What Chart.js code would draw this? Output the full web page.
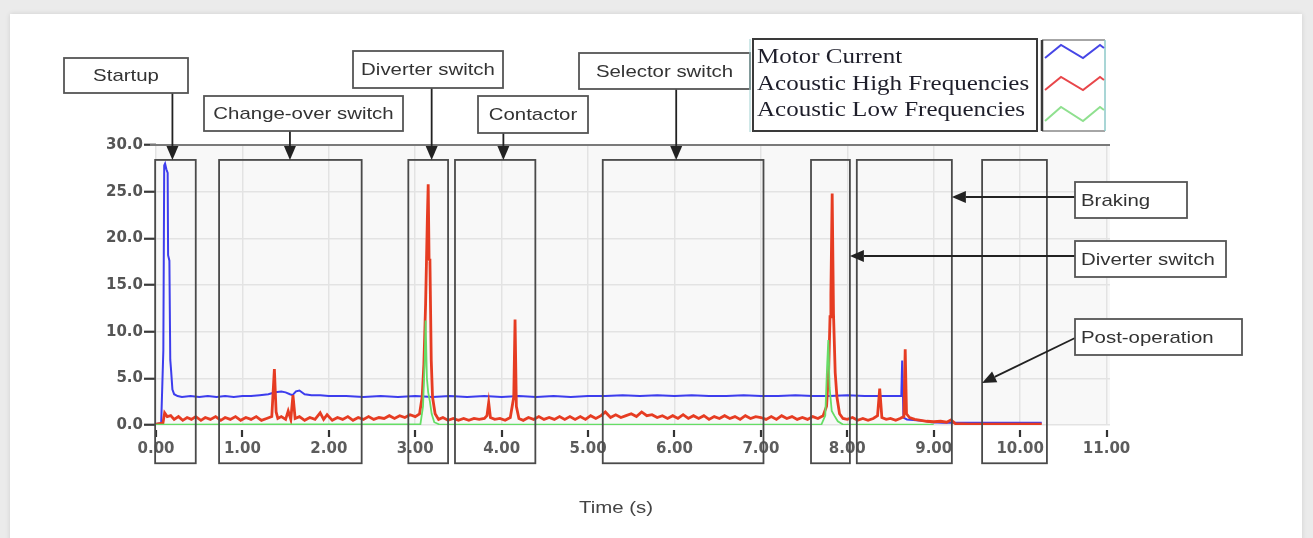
<!DOCTYPE html>
<html><head><meta charset="utf-8">
<script src="https://cdn.jsdelivr.net/npm/chart.js@4.4.0/dist/chart.umd.min.js"></script>
<style>
html,body{margin:0;padding:0;background:#ebebeb;width:1313px;height:538px;overflow:hidden}
#card{position:absolute;left:10px;top:14px;width:1292px;height:540px;background:#fff;box-shadow:0 0 5px rgba(0,0,0,0.12)}
#c{position:absolute;left:0;top:0}
</style></head>
<body><div id="card"></div><canvas id="c" width="1313" height="538"></canvas>
<script>
// ---------- data ----------
const xTickValues = [0,1,2,3,4,5,6,7,8,9,10,11];
const yTickValues = [0,5,10,15,20,25,30];

const seriesNames = ['Motor Current','Acoustic High Frequencies','Acoustic Low Frequencies'];

const motorTime = [
 0.00,0.06,0.085,0.095,0.105,0.12,0.135,0.14,0.155,0.165,
 0.175,0.19,0.21,0.25,0.30,0.40,0.50,0.60,0.70,0.80,
 0.90,1.00,1.10,1.20,1.30,1.38,1.45,1.50,1.55,1.58,
 1.62,1.66,1.72,1.80,1.90,2.00,2.20,2.40,2.60,2.80,
 3.00,3.20,3.40,3.60,3.80,4.00,4.20,4.40,4.60,4.80,
 5.00,5.20,5.40,5.60,5.80,6.00,6.20,6.40,6.60,6.80,
 7.00,7.20,7.40,7.60,7.80,8.00,8.20,8.40,8.55,8.625,
 8.635,8.65,8.69,8.80,8.92,8.97,9.10,9.40,9.70,10.00,
 10.25];
const motorCurrent = [
 0.1,0.2,8.0,27.8,28.0,27.4,27.0,18.2,17.6,7.0,
 5.8,3.8,3.3,3.1,3.0,3.1,3.0,3.1,3.0,3.1,
 3.0,3.1,3.1,3.2,3.3,3.5,3.6,3.5,3.3,3.2,
 3.6,3.7,3.3,3.2,3.2,3.1,3.1,3.0,3.1,3.0,
 3.1,3.0,3.1,3.0,3.1,3.0,3.1,3.0,3.1,3.0,
 3.1,3.1,3.2,3.1,3.2,3.1,3.2,3.1,3.1,3.2,
 3.1,3.1,3.2,3.1,3.1,3.2,3.1,3.1,3.1,3.1,
 6.9,0.8,0.6,0.5,0.4,0.3,0.25,0.25,0.25,0.25,
 0.25];

const highTime = [
 0.00,0.08,0.10,0.13,0.17,0.21,0.26,0.31,0.36,0.41,
 0.46,0.52,0.57,0.63,0.69,0.75,0.80,0.86,0.92,0.98,
 1.04,1.10,1.16,1.22,1.28,1.34,1.37,1.39,1.41,1.45,
 1.50,1.53,1.56,1.585,1.61,1.66,1.72,1.78,1.84,1.90,
 1.94,1.98,2.04,2.10,2.16,2.22,2.28,2.34,2.40,2.46,
 2.52,2.58,2.64,2.70,2.76,2.82,2.88,2.94,3.00,3.05,
 3.08,3.10,3.12,3.14,3.15,3.16,3.17,3.185,3.20,3.23,
 3.27,3.32,3.38,3.44,3.50,3.56,3.62,3.68,3.74,3.80,
 3.83,3.85,3.87,3.92,3.98,4.04,4.10,4.14,4.155,4.17,
 4.20,4.25,4.31,4.37,4.43,4.49,4.55,4.61,4.67,4.73,
 4.79,4.85,4.91,4.97,5.03,5.09,5.15,5.20,5.26,5.32,
 5.38,5.44,5.50,5.56,5.62,5.68,5.74,5.80,5.86,5.92,
 5.98,6.04,6.10,6.16,6.22,6.28,6.34,6.40,6.46,6.52,
 6.58,6.64,6.70,6.76,6.82,6.88,6.94,7.00,7.06,7.12,
 7.18,7.24,7.30,7.36,7.42,7.48,7.54,7.60,7.66,7.72,
 7.76,7.785,7.80,7.81,7.825,7.84,7.86,7.88,7.91,7.95,
 8.00,8.06,8.12,8.18,8.24,8.30,8.35,8.375,8.40,8.45,
 8.50,8.56,8.61,8.655,8.67,8.685,8.72,8.78,8.85,8.92,
 9.00,9.08,9.15,9.20,9.25,9.40,9.60,9.80,10.00,10.25];
const highFreq = [
 0.1,0.2,1.3,0.9,1.0,0.6,0.9,0.5,0.8,0.6,
 0.9,0.5,0.8,0.6,0.9,0.5,0.8,0.6,0.9,0.5,
 0.8,0.6,0.9,0.5,0.7,0.9,6.0,1.4,0.7,0.9,
 0.6,1.5,0.6,3.2,0.7,0.9,0.5,0.8,0.6,1.3,
 0.6,1.1,0.5,0.8,0.6,0.9,0.5,0.8,0.6,0.9,
 0.6,0.8,0.7,1.0,0.7,1.0,0.8,1.1,0.9,1.2,
 3.0,6.5,13.0,22.0,25.8,17.8,17.6,7.0,3.0,1.2,
 0.6,0.8,0.5,0.7,0.5,0.7,0.5,0.7,0.6,0.7,
 1.0,2.4,0.8,0.6,0.7,0.5,0.8,3.0,11.3,2.0,
 0.7,0.5,0.8,0.6,0.9,0.6,0.8,0.6,0.9,0.6,
 0.9,0.6,0.9,0.6,1.0,0.7,1.0,1.4,0.8,1.1,
 0.8,1.0,1.2,0.9,1.4,1.0,1.1,0.8,1.0,0.7,
 1.0,0.7,1.1,0.7,1.0,0.7,1.0,0.6,0.9,0.7,
 1.0,0.7,0.9,0.6,1.0,0.7,0.9,0.8,0.6,0.9,
 0.6,1.0,0.7,0.9,0.6,0.8,0.6,0.9,0.7,1.0,
 2.0,6.0,11.6,14.0,24.8,12.0,5.6,3.0,1.2,0.7,
 0.6,0.8,0.5,0.7,0.5,0.7,1.0,3.9,0.8,0.6,
 0.7,0.5,0.7,0.9,8.1,1.2,0.8,0.6,0.5,0.4,
 0.35,0.4,0.3,0.55,0.15,0.1,0.1,0.1,0.1,0.1];

const lowTime = [0.00,3.06,3.09,3.11,3.12,3.135,3.15,3.17,3.19,3.22,3.28,
 7.70,7.745,7.765,7.78,7.795,7.82,7.85,7.89,7.95,9.00];
const lowFreq = [0.05,0.1,2.0,7.0,11.2,5.0,3.5,2.5,1.2,0.3,0.05,
 0.05,1.0,6.0,9.1,4.0,1.5,1.0,0.4,0.05,0.05];

// ---------- annotations ----------
const regionTop = 28.4, regionBottom = -4.1;
const regionNames = ['Startup','Change-over','Diverter','Contactor','Selector','Diverter 2','Braking','Post-operation'];
const regionFrom = [-0.01,0.73,2.92,3.46,5.17,7.58,8.11,9.56];
const regionTo   = [0.46,2.38,3.38,4.39,7.03,8.03,9.21,10.31];

const topLabels = [
 {text:'Startup',            box:[64,58,188,93],  at:0.19},
 {text:'Change-over switch', box:[204,96,403,131],at:1.55},
 {text:'Diverter switch',    box:[353,51,503,88], at:3.19},
 {text:'Contactor',          box:[478,96,588,133],at:4.02},
 {text:'Selector switch',    box:[579,53,750,89], at:6.02}
];
const sideLabels = [
 {text:'Braking',         box:[1075,182,1187,218], ay:197, region:6, edge:'to',   val:null},
 {text:'Diverter switch', box:[1075,241,1226,277], ay:256, region:5, edge:'to',   val:null},
 {text:'Post-operation',  box:[1075,319,1242,355], ay:338, region:7, edge:'from', val:4.5}
];

const COLORS = ['#3d3ded','#e63c22','#66dd66'];
const LEGEND_COLORS = ['#4646e6','#e8464a','#8fe08f'];

function pts(xs, ys){ return xs.map((t,i)=>({x:t,y:ys[i]})); }

function sText(ctx,str,x,y,font,sx,align,base){
  ctx.save(); ctx.translate(x,y); ctx.scale(sx,1);
  ctx.font=font; ctx.textAlign=align||'center'; ctx.textBaseline=base||'middle';
  ctx.fillText(str,0,0); ctx.restore();
}
function seg(ctx,x1,y1,x2,y2){ ctx.beginPath(); ctx.moveTo(x1,y1); ctx.lineTo(x2,y2); ctx.stroke(); }
function arrow(ctx,x1,y1,x2,y2){
  const ang=Math.atan2(y2-y1,x2-x1), L=14, W=6;
  const bx=x2-L*Math.cos(ang), by=y2-L*Math.sin(ang);
  seg(ctx,x1,y1,bx,by);
  ctx.beginPath(); ctx.moveTo(x2,y2);
  ctx.lineTo(bx+W*Math.sin(ang), by-W*Math.cos(ang));
  ctx.lineTo(bx-W*Math.sin(ang), by+W*Math.cos(ang));
  ctx.closePath(); ctx.fill();
}

const overlay = {
  id:'overlay',
  beforeDraw(chart){
    const {ctx, chartArea:a} = chart;
    ctx.save(); ctx.fillStyle='#f8f8f8';
    ctx.fillRect(a.left,a.top,a.right-a.left,a.bottom-a.top); ctx.restore();
  },
  afterDraw(chart){
    const ctx=chart.ctx, xs=chart.scales.x, ys=chart.scales.y, a=chart.chartArea;
    ctx.save();
    ctx.strokeStyle='#7a7a7a'; ctx.lineWidth=2; seg(ctx,a.left-6,a.top,a.right,a.top);
    ctx.strokeStyle='#333'; ctx.lineWidth=2.2;
    xTickValues.forEach(v=>{const p=Math.round(xs.getPixelForValue(v)); seg(ctx,p,a.bottom+5,p,a.bottom+12);});
    const yT=ys.getPixelForValue(regionTop), yB=ys.getPixelForValue(regionBottom);
    ctx.strokeStyle='#4a4a4a'; ctx.lineWidth=1.8;
    regionFrom.forEach((f,i)=>{
      const x1=xs.getPixelForValue(f), x2=xs.getPixelForValue(regionTo[i]);
      ctx.strokeRect(x1,yT,x2-x1,yB-yT);
    });
    const lfont='17px "Liberation Sans", Arial, sans-serif';
    topLabels.forEach(l=>{
      const [x1,y1,x2,y2]=l.box;
      ctx.fillStyle='#222'; ctx.strokeStyle='#222'; ctx.lineWidth=1.8;
      const ax=xs.getPixelForValue(l.at);
      arrow(ctx,ax,y2,ax,yT);
      ctx.fillStyle='#fff'; ctx.fillRect(x1,y1,x2-x1,y2-y1);
      ctx.strokeStyle='#555'; ctx.strokeRect(x1,y1,x2-x1,y2-y1);
      ctx.fillStyle='#333'; sText(ctx,l.text,(x1+x2)/2,(y1+y2)/2+1,lfont,1.2,'center');
    });
    sideLabels.forEach(l=>{
      const [x1,y1,x2,y2]=l.box;
      const tx=xs.getPixelForValue(l.edge==='to'?regionTo[l.region]:regionFrom[l.region]);
      const ty=l.val===null?l.ay:ys.getPixelForValue(l.val);
      ctx.fillStyle='#222'; ctx.strokeStyle='#222'; ctx.lineWidth=1.8;
      arrow(ctx,x1,l.ay,tx,ty);
      ctx.fillStyle='#fff'; ctx.fillRect(x1,y1,x2-x1,y2-y1);
      ctx.strokeStyle='#555'; ctx.strokeRect(x1,y1,x2-x1,y2-y1);
      ctx.fillStyle='#333'; sText(ctx,l.text,x1+6,(y1+y2)/2+1,lfont,1.2,'left');
    });
    ctx.fillStyle='#fff'; ctx.fillRect(753,39,284,92);
    ctx.strokeStyle='#3a3a3a'; ctx.lineWidth=2; ctx.strokeRect(753,39,284,92);
    ctx.strokeStyle='#9fd0d0'; ctx.lineWidth=1; seg(ctx,750,39,750,132);
    const sfont='20px "Liberation Serif", "Times New Roman", serif';
    ctx.fillStyle='#1e1e2a';
    seriesNames.forEach((n,i)=>sText(ctx,n,757,63+i*26.5,sfont,1.25,'left','alphabetic'));
    ctx.fillStyle='#fff'; ctx.fillRect(1042,40,63,91);
    ctx.strokeStyle='#888'; ctx.lineWidth=1.5; seg(ctx,1042,40,1105,40); seg(ctx,1042,131,1105,131);
    ctx.strokeStyle='#3a3a3a'; ctx.lineWidth=2.5; seg(ctx,1042,40,1042,131);
    ctx.strokeStyle='#8cc8c8'; ctx.lineWidth=1.5; seg(ctx,1105,40,1105,131);
    const zz=[[45,58],[77,90],[107,121]];
    LEGEND_COLORS.forEach((c,i)=>{
      const [t,b]=zz[i];
      ctx.strokeStyle=c; ctx.lineWidth=2;
      ctx.beginPath(); ctx.moveTo(1045,b); ctx.lineTo(1061,t); ctx.lineTo(1083,b); ctx.lineTo(1100,t); ctx.lineTo(1104,t+3); ctx.stroke();
    });
    ctx.fillStyle='#444';
    sText(ctx,'Time (s)',616,508,lfont,1.2,'center');
    ctx.restore();
  }
};

new Chart(document.getElementById('c'), {
  type:'line',
  data:{datasets:[
    {label:seriesNames[2], data:pts(lowTime,lowFreq), borderColor:COLORS[2], borderWidth:1.8, order:1},
    {label:seriesNames[1], data:pts(highTime,highFreq), borderColor:COLORS[1], borderWidth:2.8, order:2},
    {label:seriesNames[0], data:pts(motorTime,motorCurrent), borderColor:COLORS[0], borderWidth:2, order:3}
  ]},
  options:{
    responsive:false, animation:false, parsing:true,
    elements:{point:{radius:0}, line:{tension:0}},
    layout:{padding:{top:145,right:203,left:0,bottom:0}},
    plugins:{legend:{display:false}, tooltip:{enabled:false}},
    scales:{
      x:{type:'linear', min:0, max:11.04,
        afterBuildTicks:s=>{s.ticks=xTickValues.map(v=>({value:v}));},
        afterFit:s=>{s.height=113;},
        border:{display:false},
        grid:{color:'#e3e3e3', lineWidth:1.5, drawTicks:true, tickLength:12, tickColor:'rgba(0,0,0,0)'},
        ticks:{callback:v=>Number(v).toFixed(2), autoSkip:false, maxRotation:0, padding:3,
          color:'#5c5c5c', font:{family:'"DejaVu Sans", Verdana, sans-serif', size:15, weight:'bold'}}
      },
      y:{type:'linear', min:0, max:30,
        afterBuildTicks:s=>{s.ticks=yTickValues.map(v=>({value:v}));},
        afterFit:s=>{s.width=156;},
        border:{display:false},
        grid:{color:'#e3e3e3', lineWidth:1.5, tickLength:12, tickColor:'#3a3a3a', tickWidth:2.2},
        ticks:{callback:v=>Number(v).toFixed(1), padding:1,
          color:'#555', font:{family:'"DejaVu Sans", Verdana, sans-serif', size:15, weight:'bold'}}
      }
    }
  },
  plugins:[overlay]
});
</script></body></html>
